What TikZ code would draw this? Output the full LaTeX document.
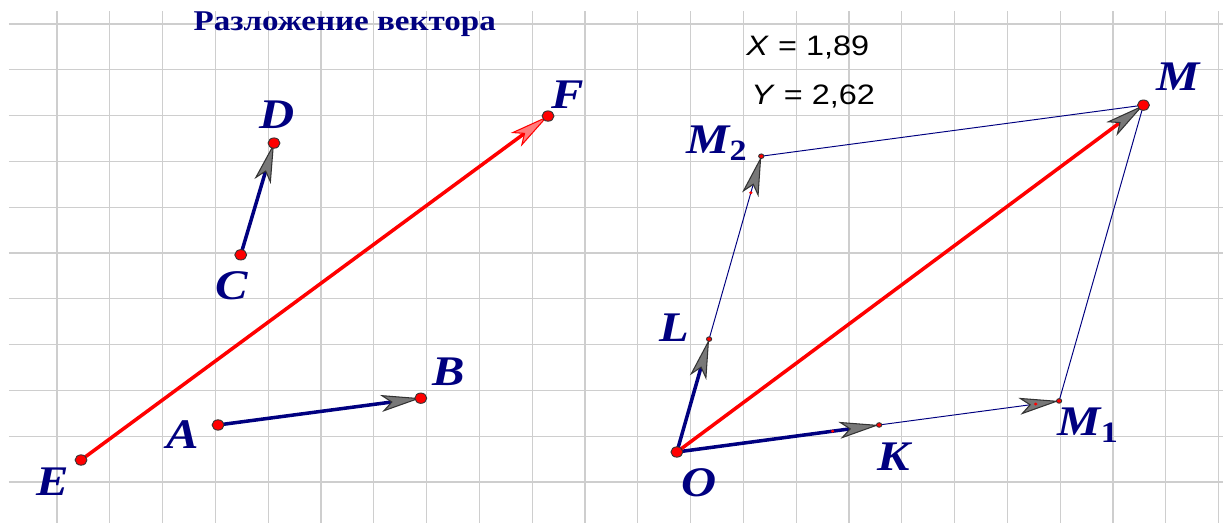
\documentclass[tikz,border=0pt]{standalone}
\usepackage{fontspec}
\setmainfont{Liberation Serif}
\newfontfamily\sansfont{Liberation Sans}
\usetikzlibrary{arrows.meta,calc}
\definecolor{navy}{RGB}{0,0,128}
\definecolor{gridgray}{RGB}{206,206,206}
\definecolor{tipgray}{RGB}{120,120,120}
\definecolor{tipred}{RGB}{255,125,125}
% the drawing is stretched sideways, so is its text
\newcommand{\wide}[1]{\scalebox{1.153}[1]{#1}}
\tikzset {
  >=Stealth,
  every node/.style={inner sep=0pt},
  gridline/.style={gridgray, line width=0.75pt},
  graytip/.style={-{Stealth[length=8mm,width=3.4mm,inset=2mm,fill=tipgray,color=black!80,line width=0.6pt]}},
  vec/.style={navy, line width=2pt, graytip},
  thinvec/.style={navy, line width=0.55pt, graytip},
  side/.style={navy, line width=0.55pt},
  redvec/.style={red, line width=2pt,
    -{Stealth[length=8mm,width=3.4mm,inset=2mm,fill=tipred,color=red,line width=0.6pt]}},
  pt/.style={fill=red, draw=black!80, line width=0.5pt},
  lbl/.style={navy, font=\bfseries\itshape\fontsize{24}{28}\selectfont},
  heading/.style={navy, anchor=base, font=\bfseries\fontsize{16.3}{19}\selectfont},
  coord/.style={black, font=\sansfont\fontsize{16}{19}\selectfont},
}

\begin{document}
\begin{tikzpicture}[x=1.056cm,y=0.916cm]
  \useasboundingbox (-1.0795,-0.895) rectangle (22.0833,10.524);
  \fill[white] (-1.0795,-0.895) rectangle (22.0833,10.524);

  % grid
  \foreach \i in {0,...,22}
    \draw[gridline] (\i,-0.895) -- (\i,10.28);
  \foreach \j in {0,...,10}
    \draw[gridline] (-0.91,\j) -- (22.0833,\j);

  \node[heading] (title) at (5.45,9.85) {\wide{Разложение вектора}};
  \node[coord] (xval) at (14.22,9.48) {\wide{\textit{X} = 1,89}};
  \node[coord] (yval) at (14.32,8.41) {\wide{\textit{Y} = 2,62}};

  % points
  \coordinate (A) at (3.05,1.245);
  \coordinate (B) at (6.89,1.83);
  \coordinate (C) at (3.48,4.96);
  \coordinate (D) at (4.11,7.40);
  \coordinate (E) at (0.455,0.48);
  \coordinate (F) at (9.30,7.99);
  \coordinate (O) at (11.74,0.655);
  \coordinate (K) at (15.57,1.245);
  \coordinate (L) at (12.35,3.12);
  \coordinate (M1) at ($(O)!1.89!(K)$);
  \coordinate (M2) at ($(O)!2.62!(L)$);
  \coordinate (M) at ($(M1)+(M2)-(O)$);
  \coordinate (tK) at ($(O)!0.77!(K)$);
  \coordinate (tMa) at ($(K)!0.87!(M1)$);
  \coordinate (tMb) at ($(L)!0.80!(M2)$);

  % vectors
  \draw[vec] (A) -- (B);
  \draw[vec] (C) -- (D);
  \draw[redvec] (E) -- (F);
  \draw[side] (M2) -- (M);
  \draw[side] (M1) -- (M);
  \draw[thinvec] (K) -- (M1);
  \draw[thinvec] (L) -- (M2);
  \draw[vec] (O) -- (K);
  \draw[vec] (O) -- (L);
  \draw[red, line width=2pt, graytip] (O) -- (M);

  \foreach \p in {A,B,C,D,E,F,O,M}
    \filldraw[pt] (\p) circle[radius=0.113];
  \foreach \p in {K,L,M1,M2}
    \filldraw[pt] (\p) circle[radius=0.05];
  \foreach \p in {tK,tMa,tMb}
    \fill[red] (\p) circle[radius=0.035];

  % labels
  \node[lbl] (labA) at (2.39,1.03) {\wide{A}};
  \node[lbl] (labB) at (7.41,2.40) {\wide{B}};
  \node[lbl] (labC) at (3.31,4.28) {\wide{C}};
  \node[lbl] (labD) at (4.17,8.01) {\wide{D}};
  \node[lbl] (labE) at (-0.08,0.0) {\wide{E}};
  \node[lbl] (labF) at (9.68,8.45) {\wide{F}};
  \node[lbl] (labO) at (12.16,-0.02) {\wide{O}};
  \node[lbl] (labL) at (11.69,3.36) {\wide{L}};
  \node[lbl] (labK) at (15.85,0.55) {\wide{K}};
  \node[lbl] (labMa) at (19.53,1.24) {\wide{M\textsubscript{\upshape 1}}};
  \node[lbl] (labMb) at (12.5,7.40) {\wide{M\textsubscript{\upshape 2}}};
  \node[lbl] (labM) at (21.23,8.84) {\wide{M}};
\end{tikzpicture}
\end{document}
